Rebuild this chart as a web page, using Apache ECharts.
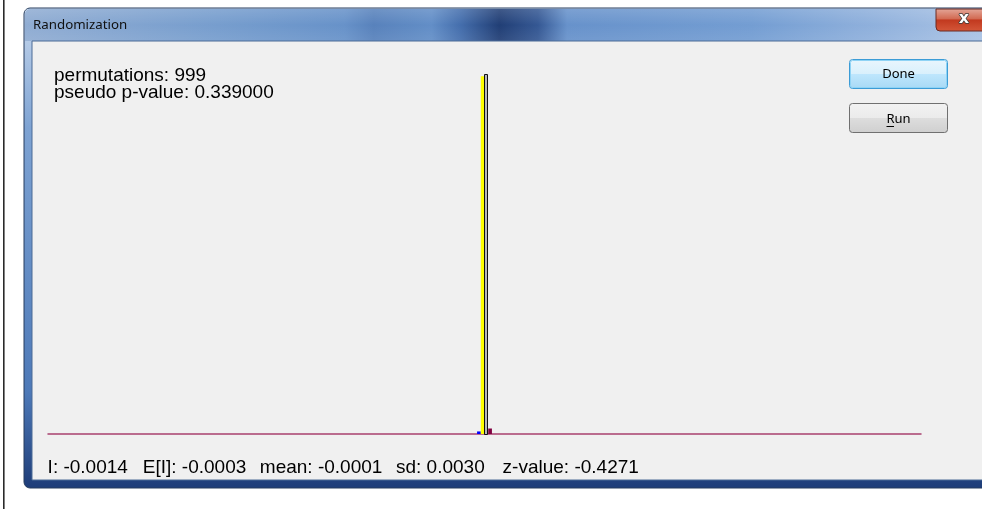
<!DOCTYPE html>
<html>
<head>
<meta charset="utf-8">
<title>Randomization</title>
<script src="https://cdn.jsdelivr.net/npm/echarts@6/dist/echarts.min.js"></script>
<style>
  html, body { margin: 0; padding: 0; background: #ffffff; }
  #chart { width: 1000px; height: 509px; }
</style>
</head>
<body>
<div id="chart"></div>
<script>
// Permutation results
const permutations = 999;
const pseudoP = '0.339000';
const obsI = -0.0014;
const expI = -0.0003;
const meanI = -0.0001;
const sdI = 0.0030;
const zValue = -0.4271;

// Histogram bins of the reference distribution
const binLo = [-0.011, -0.007, 0.001];
const binHi = [-0.007, -0.003, 0.005];
const binCount = [7, 977, 15];
const binColor = ['#0000ff', '#ffff00', '#800040'];

const chart = echarts.init(document.getElementById('chart'), null, { renderer: 'canvas' });

const bins = binLo.map((lo, i) => [lo, binHi[i], binCount[i], i]);
const yMax = 983;

const uiFont = '"Noto Sans", "DejaVu Sans", sans-serif';
const txtFont = '19px "Liberation Sans", Arial, sans-serif';

// status line pieces, laid out left to right
const statParts = [
  'I: ' + obsI.toFixed(4),
  'E[I]: ' + expI.toFixed(4),
  'mean: ' + meanI.toFixed(4),
  'sd: ' + sdI.toFixed(4),
  'z-value: ' + zValue.toFixed(4)
];
const statX = [47.6, 142.8, 259.8, 396, 502.6];

const statGraphics = statParts.map((t, i) => ({
  type: 'text', z: 2, x: statX[i], y: 458,
  style: { text: t, font: txtFont, fill: '#000000' }
}));

const option = {
  backgroundColor: '#ffffff',
  animation: false,
  grid: { left: 48, right: 79, top: 74, bottom: 75 },
  xAxis: {
    type: 'value', min: -0.473, max: 0.467,
    axisLine: { show: true, onZero: false, lineStyle: { color: '#a8406e', width: 1.5 } },
    axisTick: { show: false }, axisLabel: { show: false }, splitLine: { show: false }
  },
  yAxis: {
    type: 'value', min: 0, max: yMax,
    axisLine: { show: false }, axisTick: { show: false },
    axisLabel: { show: false }, splitLine: { show: false }
  },
  graphic: [
    // left page rule
    { type: 'rect', z: 0, shape: { x: 3, y: 0, width: 1.6, height: 509 }, style: { fill: '#2a2a2a' } },
    // window frame
    { type: 'rect', z: 0, shape: { x: 24, y: 8, width: 970, height: 480, r: [6, 6, 6, 6] },
      style: { fill: { type: 'linear', x: 0, y: 0, x2: 0, y2: 1, colorStops: [
        { offset: 0, color: '#c9d9ee' }, { offset: 0.25, color: '#7ea3d3' },
        { offset: 0.8, color: '#4d79b8' }, { offset: 1, color: '#1d3c78' }] },
        stroke: '#263d5e', lineWidth: 1 } },
    // title bar
    { type: 'rect', z: 0, shape: { x: 25, y: 9, width: 968, height: 32, r: [5, 5, 0, 0] },
      style: { fill: { type: 'linear', x: 0, y: 0, x2: 1, y2: 0, colorStops: [
        { offset: 0, color: '#8aa8d0' }, { offset: 0.2, color: '#6f98cb' },
        { offset: 0.33, color: '#5f8cc6' }, { offset: 0.36, color: '#4f7bb8' },
        { offset: 0.42, color: '#5a88c4' }, { offset: 0.45, color: '#3a66a8' },
        { offset: 0.49, color: '#15346e' }, { offset: 0.53, color: '#2a4f8e' },
        { offset: 0.56, color: '#5f8cc8' }, { offset: 0.75, color: '#6c98d0' },
        { offset: 0.9, color: '#8fb0dc' }, { offset: 1, color: '#a8c2e4' }] } } },
    // glass sheen on the title bar
    { type: 'rect', z: 0, shape: { x: 25, y: 9, width: 968, height: 32 },
      style: { fill: { type: 'linear', x: 0, y: 0, x2: 0, y2: 1, colorStops: [
        { offset: 0, color: 'rgba(255,255,255,0.18)' }, { offset: 0.5, color: 'rgba(255,255,255,0.05)' },
        { offset: 1, color: 'rgba(255,255,255,0.12)' }] } } },
    { type: 'text', z: 1, x: 33, y: 25,
      style: { text: 'Randomization', font: '13.3px ' + uiFont, fill: '#101010', verticalAlign: 'middle' } },
    // close button
    { type: 'rect', z: 1, shape: { x: 936, y: 9, width: 50, height: 22, r: [0, 0, 0, 4] },
      style: { fill: { type: 'linear', x: 0, y: 0, x2: 0, y2: 1, colorStops: [
        { offset: 0, color: '#e4a89a' }, { offset: 0.45, color: '#d26a52' },
        { offset: 0.5, color: '#c2391f' }, { offset: 1, color: '#d4583a' }] },
        stroke: '#6a2a22', lineWidth: 1 } },
    { type: 'text', z: 2, x: 964, y: 19,
      style: { text: 'x', font: 'bold 16px "DejaVu Sans", sans-serif', fill: '#ffffff',
        stroke: '#3a3a3a', lineWidth: 1.5, align: 'center', verticalAlign: 'middle' } },
    // client area
    { type: 'rect', z: 0, shape: { x: 32, y: 41, width: 962, height: 439 },
      style: { fill: '#f0f0f0', stroke: '#4a6a96', lineWidth: 1 } },
    // white page beyond the right edge
    { type: 'rect', z: 1, shape: { x: 982, y: 0, width: 18, height: 509 }, style: { fill: '#ffffff' } },
    // Done button
    { type: 'rect', z: 1, shape: { x: 849.5, y: 59.5, width: 98, height: 29, r: 3 },
      style: { fill: { type: 'linear', x: 0, y: 0, x2: 0, y2: 1, colorStops: [
        { offset: 0, color: '#eaf6fd' }, { offset: 0.5, color: '#d9f0fc' },
        { offset: 0.51, color: '#bee6fd' }, { offset: 1, color: '#a7d9f5' }] },
        stroke: '#3c9cd6', lineWidth: 1 } },
    { type: 'rect', z: 1, shape: { x: 850.5, y: 60.5, width: 96, height: 27, r: 2 },
      style: { fill: 'none', stroke: '#8fd3f5', lineWidth: 1 } },
    { type: 'text', z: 2, x: 898.5, y: 74.5,
      style: { text: 'Done', font: '13px ' + uiFont, fill: '#000000', align: 'center', verticalAlign: 'middle' } },
    // Run button
    { type: 'rect', z: 1, shape: { x: 849.5, y: 103.5, width: 98, height: 29, r: 3 },
      style: { fill: { type: 'linear', x: 0, y: 0, x2: 0, y2: 1, colorStops: [
        { offset: 0, color: '#f2f2f2' }, { offset: 0.5, color: '#ebebeb' },
        { offset: 0.51, color: '#dddddd' }, { offset: 1, color: '#cfcfcf' }] },
        stroke: '#707070', lineWidth: 1 } },
    { type: 'text', z: 2, x: 898.5, y: 119,
      style: { text: 'Run', font: '13px ' + uiFont, fill: '#000000', align: 'center', verticalAlign: 'middle' } },
    { type: 'rect', z: 2, shape: { x: 886.5, y: 126, width: 7.5, height: 1 }, style: { fill: '#000000' } },
    // summary text
    { type: 'text', z: 2, x: 54, y: 66,
      style: { text: 'permutations: ' + permutations, font: txtFont, fill: '#000000' } },
    { type: 'text', z: 2, x: 54, y: 83,
      style: { text: 'pseudo p-value: ' + pseudoP, font: txtFont, fill: '#000000' } }
  ].concat(statGraphics),
  series: [
    {
      type: 'custom',
      z: 3,
      data: bins,
      encode: { x: [0, 1], y: 2 },
      renderItem: function (params, api) {
        const p0 = api.coord([api.value(0), api.value(2)]);
        const p1 = api.coord([api.value(1), 0]);
        return {
          type: 'rect',
          shape: { x: p0[0], y: p0[1], width: p1[0] - p0[0], height: p1[1] - p0[1] },
          style: { fill: binColor[api.value(3)] }
        };
      }
    },
    {
      // observed statistic marker
      type: 'custom',
      z: 4,
      data: [[obsI]],
      renderItem: function (params, api) {
        const top = api.coord([api.value(0), yMax]);
        const bot = api.coord([api.value(0), 0]);
        const left = Math.round(top[0]) - 1.5;
        return {
          type: 'rect',
          shape: { x: left, y: Math.round(top[1]) + 0.5, width: 3, height: bot[1] - top[1] },
          style: { fill: '#b8b8b8', stroke: '#111111', lineWidth: 1 }
        };
      }
    }
  ]
};

chart.setOption(option);
</script>
</body>
</html>
